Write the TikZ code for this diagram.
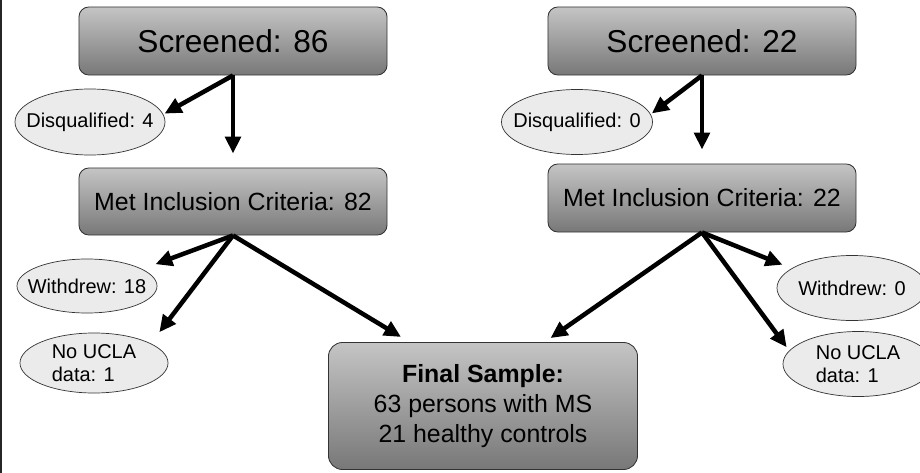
\documentclass[tikz,border=0pt]{standalone}
\usepackage{fontspec}
\setmainfont{Liberation Sans}
\usepackage{tikz}
\usetikzlibrary{arrows.meta,shapes.geometric}

\newcommand{\screenfont}{\fontsize{22.5}{27}\selectfont}
\newcommand{\critfont}{\fontsize{17.7}{21.3}\selectfont}
\newcommand{\ovalfont}{\fontsize{14.2}{16.4}\selectfont}

\tikzset{
  stagebox/.style={rectangle, rounded corners=7pt, draw=black!80, line width=0.6pt,
    top color=black!23, bottom color=black!53, minimum width=7.7cm},
  outcome/.style={ellipse, draw=black!80, line width=0.5pt, fill=black!8,
    inner xsep=-0.4cm, inner ysep=-0.15cm, font=\ovalfont},
  flow/.style={-{Triangle[length=12pt,width=11pt]}, line width=3.2pt}
}

\begin{document}
\begin{tikzpicture}[x=0.025cm, y=-0.025cm]
    \useasboundingbox (0,0) rectangle (920,473);
    \draw[black!85, line width=1.4pt] (0.7,0) -- (0.7,473);

    % left branch
    \node[stagebox, minimum height=1.7cm, font=\screenfont] (s86) at (233,41) {Screened: 86};
    \node[stagebox, minimum height=1.675cm, font=\critfont] (m82) at (233,201.5) {Met Inclusion Criteria: 82};
    \node[outcome, minimum width=3.75cm, minimum height=1.65cm] (d4) at (90,122) {Disqualified: 4};
    \node[outcome, minimum width=3.5cm, minimum height=1.35cm] (w18) at (87,286) {Withdrew: 18};
    \node[outcome, minimum width=3.7cm, minimum height=1.5cm, align=left] (nu1) at (94,363) {No UCLA\\data: 1};

    % right branch
    \node[stagebox, minimum height=1.7cm, font=\screenfont] (s22) at (702,41) {Screened: 22};
    \node[stagebox, minimum height=1.7cm, font=\critfont] (m22) at (702,198) {Met Inclusion Criteria: 22};
    \node[outcome, minimum width=3.775cm, minimum height=1.625cm] (d0) at (577,122) {Disqualified: 0};
    \node[outcome, minimum width=3.75cm, minimum height=1.625cm] (w0) at (852,288) {Withdrew: 0};
    \node[outcome, minimum width=3.75cm, minimum height=1.625cm, align=left] (nu0) at (858,364) {No UCLA\\data: 1};

    \node[stagebox, rounded corners=10pt, minimum width=7.725cm, minimum height=3.175cm,
      font=\critfont, align=center] (fin) at (483,406)
      {\textbf{Final Sample:}\\63 persons with MS\\21 healthy controls};

    \draw[flow, shorten >=1pt] (s86.south) -- (d4.6);
    \draw[flow, shorten >=10pt] (s86.south) -- (m82.north);
    \draw[flow, shorten >=1pt] (s22.south) -- (d0.6);
    \draw[flow, shorten >=10pt] (s22.south) -- (m22.north);

    \draw[flow, shorten >=10pt] (m82.south) -- (w18.17);
    \draw[flow, shorten >=10pt] (m82.south) -- (nu1.19);
    \draw[flow, shorten >=7pt] (m82.south) -- (fin.139);
    \draw[flow, shorten >=5pt] (m22.south) -- (fin.46);
    \draw[flow, shorten >=7pt] (m22.south) -- (w0.162);
    \draw[flow, shorten >=3pt] (m22.south) -- (nu0.169);
\end{tikzpicture}
\end{document}
